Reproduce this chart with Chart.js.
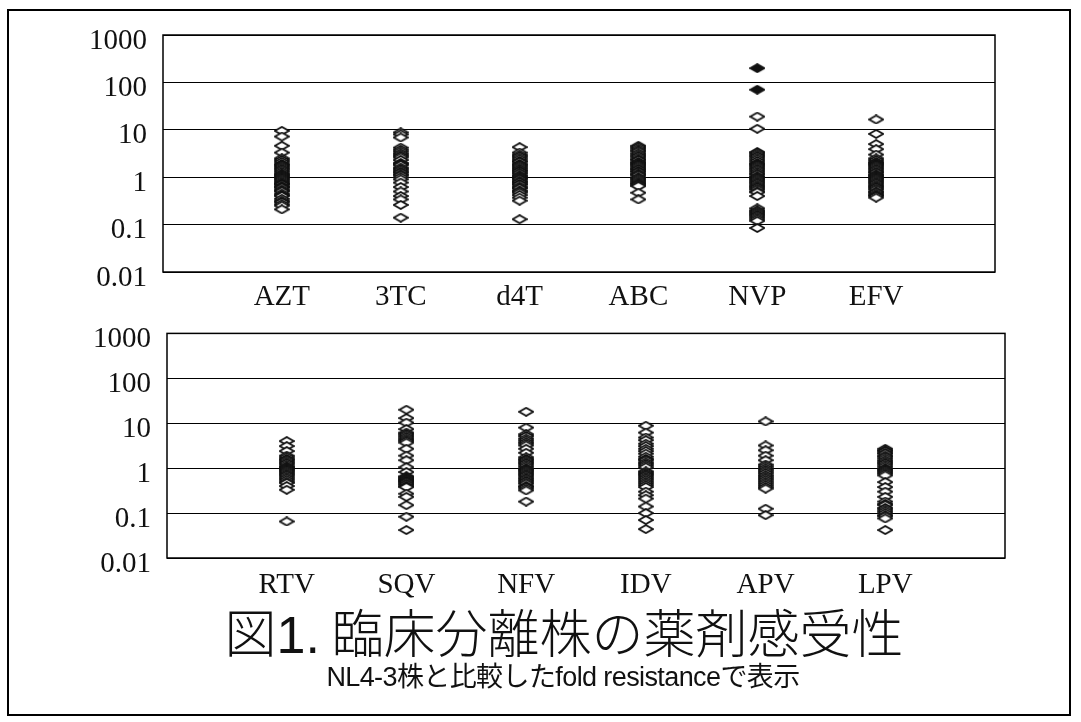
<!DOCTYPE html>
<html>
<head>
<meta charset="utf-8">
<script src="https://cdn.jsdelivr.net/npm/chart.js@4.4.0/dist/chart.umd.min.js"></script>
<style>
  body { margin: 0; background: #fff; }
  #page { position: relative; width: 1081px; height: 722px; overflow: hidden; background: #fff; }
  #frame { position: absolute; left: 7px; top: 9px; width: 1064px; height: 707px; border: 2px solid #000; box-sizing: border-box; }
  canvas { position: absolute; left: 0; }
  #topChart { top: 0; }
  #bottomChart { top: 300px; }
  #title { position: absolute; left: 0; width: 1128px; top: 600px; text-align: center; font-family: "Noto Sans CJK JP", sans-serif; font-weight: 300; font-size: 52px; line-height: 62px; color: #111; white-space: nowrap; }
  #title .num { font-family: "Liberation Sans", Arial, sans-serif; font-weight: 400; }
  #subtitle { position: absolute; left: 0; width: 1126px; top: 661px; text-align: center; font-family: "Liberation Sans", "Noto Sans CJK JP", sans-serif; font-size: 27px; line-height: 32px; color: #111; white-space: nowrap; letter-spacing: -0.6px; }
</style>
</head>
<body>
<div id="page">
  <div id="frame"></div>
  <canvas id="topChart" width="1081" height="320"></canvas>
  <canvas id="bottomChart" width="1081" height="320"></canvas>
  <div id="title">図<span class="num">1.</span> 臨床分離株の薬剤感受性</div>
  <div id="subtitle">NL4-3株と比較したfold resistanceで表示</div>
</div>
<script>
/* eslint-disable no-undef */

// fold resistance of clinical isolates, one list per drug
const nrtiLabels = ['AZT', '3TC', 'd4T', 'ABC', 'NVP', 'EFV']
const piLabels = ['RTV', 'SQV', 'NFV', 'IDV', 'APV', 'LPV']

const azt = [9.5, 7.2, 4.6, 3.3, 2.5, 2.3, 2.1, 1.9, 1.8, 1.7, 1.6, 1.5, 1.4, 1.3, 1.2, 1.15, 1.1, 1.05, 1.0, 0.95, 0.9, 0.85, 0.8, 0.75, 0.72, 0.7, 0.65, 0.62, 0.6, 0.55, 0.52, 0.5, 0.45, 0.42, 0.4, 0.35, 0.32, 0.3, 0.27, 0.25, 0.21]
const tc3 = [8.8, 8.0, 6.9, 4.2, 3.8, 3.5, 3.2, 3.0, 2.8, 2.6, 2.3, 2.0, 1.9, 1.8, 1.6, 1.5, 1.4, 1.3, 1.25, 1.15, 1.1, 1.0, 0.9, 0.77, 0.62, 0.5, 0.4, 0.34, 0.26, 0.14]
const d4t = [4.3, 3.3, 3.0, 2.8, 2.6, 2.4, 2.2, 2.1, 1.9, 1.8, 1.7, 1.6, 1.5, 1.4, 1.35, 1.25, 1.2, 1.1, 1.05, 1.0, 0.95, 0.92, 0.85, 0.8, 0.78, 0.72, 0.7, 0.64, 0.6, 0.58, 0.52, 0.5, 0.47, 0.42, 0.37, 0.32, 0.13]
const abc = [4.6, 4.3, 4.0, 3.7, 3.5, 3.2, 3.0, 2.8, 2.6, 2.4, 2.3, 2.1, 2.0, 1.9, 1.8, 1.7, 1.6, 1.5, 1.45, 1.35, 1.3, 1.2, 1.15, 1.1, 1.0, 0.95, 0.9, 0.85, 0.8, 0.75, 0.72, 0.68, 0.65, 0.47, 0.34]
const nvp = [19, 10.5, 3.4, 3.2, 3.0, 2.8, 2.6, 2.4, 2.2, 2.0, 1.9, 1.8, 1.7, 1.6, 1.5, 1.4, 1.3, 1.2, 1.15, 1.05, 1.0, 0.95, 0.9, 0.85, 0.8, 0.75, 0.7, 0.66, 0.62, 0.58, 0.55, 0.5, 0.48, 0.4, 0.22, 0.2, 0.19, 0.18, 0.17, 0.16, 0.15, 0.14, 0.13, 0.12, 0.085]
const nvpHigh = [200, 70]
const efv = [16.5, 8.2, 5.0, 3.9, 3.0, 2.5, 2.3, 2.1, 2.0, 1.9, 1.8, 1.7, 1.6, 1.5, 1.4, 1.3, 1.25, 1.15, 1.1, 1.05, 1.0, 0.95, 0.9, 0.85, 0.8, 0.75, 0.7, 0.66, 0.62, 0.58, 0.55, 0.5, 0.48, 0.45, 0.42, 0.4, 0.37]

const rtv = [4.0, 3.1, 2.4, 1.9, 1.75, 1.6, 1.5, 1.4, 1.3, 1.2, 1.1, 1.05, 1.0, 0.95, 0.9, 0.85, 0.8, 0.75, 0.7, 0.65, 0.6, 0.55, 0.5, 0.47, 0.4, 0.33, 0.065]
const sqv = [20, 13, 10.3, 7.4, 6.2, 5.8, 5.4, 5.0, 4.6, 4.3, 4.0, 3.7, 2.7, 1.9, 1.5, 1.05, 0.82, 0.66, 0.63, 0.6, 0.57, 0.55, 0.52, 0.5, 0.48, 0.45, 0.43, 0.4, 0.38, 0.27, 0.23, 0.15, 0.083, 0.042]
const nfv = [18, 8.0, 5.7, 5.2, 4.6, 4.2, 3.8, 3.5, 3.2, 2.7, 2.2, 1.75, 1.6, 1.5, 1.4, 1.3, 1.2, 1.1, 1.0, 0.95, 0.9, 0.85, 0.8, 0.75, 0.7, 0.65, 0.6, 0.56, 0.52, 0.48, 0.45, 0.4, 0.38, 0.35, 0.32, 0.18]
const idv = [8.8, 6.2, 4.8, 4.2, 3.5, 3.1, 2.7, 2.4, 2.1, 1.8, 1.6, 1.5, 1.35, 1.25, 1.15, 1.05, 0.85, 0.8, 0.75, 0.7, 0.65, 0.6, 0.55, 0.5, 0.46, 0.42, 0.38, 0.3, 0.25, 0.21, 0.14, 0.1, 0.07, 0.044]
const apv = [11, 3.2, 2.5, 1.9, 1.5, 1.2, 1.1, 1.0, 0.92, 0.85, 0.78, 0.7, 0.65, 0.6, 0.55, 0.5, 0.46, 0.42, 0.38, 0.35, 0.125, 0.09]
const lpv = [2.7, 2.5, 2.4, 2.2, 2.1, 1.9, 1.8, 1.65, 1.5, 1.4, 1.3, 1.2, 1.1, 1.0, 0.95, 0.9, 0.85, 0.8, 0.75, 0.69, 0.49, 0.38, 0.3, 0.23, 0.18, 0.16, 0.15, 0.13, 0.12, 0.11, 0.1, 0.09, 0.085, 0.076, 0.042]

const yTicks = [0.01, 0.1, 1, 10, 100, 1000]
const yTickLabels = ['0.01', '0.1', '1', '10', '100', '1000']

// flattened diamond marker
function diamond(fill) {
  const c = document.createElement('canvas')
  c.width = 16
  c.height = 10
  const g = c.getContext('2d')
  g.beginPath()
  g.moveTo(1, 5)
  g.lineTo(8, 1)
  g.lineTo(15, 5)
  g.lineTo(8, 9)
  g.closePath()
  g.fillStyle = fill
  g.fill()
  g.lineWidth = 1.8
  g.strokeStyle = '#111'
  g.stroke()
  return c
}

const openMark = diamond('#fff')
const solidMark = diamond('#111')

// box round the plot area
const plotFrame = {
  id: 'plotFrame',
  afterDraw(chart) {
    const { ctx, chartArea: a } = chart
    ctx.save()
    ctx.strokeStyle = '#000'
    ctx.lineWidth = 1.5
    ctx.strokeRect(a.left, a.top, a.right - a.left, a.bottom - a.top)
    ctx.restore()
  }
}

function toPoints(groups) {
  const pts = []
  groups.forEach((vals, i) => {
    vals.forEach((v) => pts.push({ x: i + 1, y: v }))
  })
  return pts
}

function makeChart(id, labels, groups, solid, area) {
  const ctx = document.getElementById(id).getContext('2d')
  const datasets = [
    {
      data: toPoints(groups),
      pointStyle: openMark,
      pointRadius: 7
    }
  ]
  if (solid) {
    datasets.unshift({
      data: toPoints(solid),
      pointStyle: solidMark,
      pointRadius: 7
    })
  }
  return new Chart(ctx, {
    type: 'scatter',
    data: { datasets },
    options: {
      responsive: false,
      animation: false,
      events: [],
      layout: {
        padding: { top: area.top, right: 1081 - area.right, left: 0, bottom: 0 }
      },
      plugins: { legend: { display: false }, tooltip: { enabled: false } },
      scales: {
        x: {
          type: 'linear',
          min: 0,
          max: 7,
          afterBuildTicks: (s) => {
            s.ticks = labels.map((l, i) => ({ value: i + 1 }))
          },
          afterFit: (s) => {
            s.height = 320 - area.bottom
          },
          grid: { display: false },
          border: { display: false },
          ticks: {
            autoSkip: false,
            maxRotation: 0,
            padding: area.labelGap,
            color: '#111',
            font: { family: 'Liberation Serif', size: 29 },
            callback: (v) => labels[v - 1]
          }
        },
        y: {
          type: 'logarithmic',
          min: 0.01,
          max: 1000,
          afterBuildTicks: (s) => {
            s.ticks = yTicks.map((v) => ({ value: v }))
          },
          afterFit: (s) => {
            s.width = area.left
          },
          grid: { color: '#000', lineWidth: 1, drawTicks: false },
          border: { display: false },
          ticks: {
            padding: 16,
            labelOffset: 6,
            color: '#111',
            font: { family: 'Liberation Serif', size: 29 },
            callback: (v) => yTickLabels[yTicks.indexOf(v)]
          }
        }
      }
    },
    plugins: [plotFrame]
  })
}

(function () {
  makeChart('topChart', nrtiLabels, [azt, tc3, d4t, abc, nvp, efv],
    [[], [], [], [], nvpHigh, []],
    { left: 163, top: 35, right: 995, bottom: 272, labelGap: 0 })
  makeChart('bottomChart', piLabels, [rtv, sqv, nfv, idv, apv, lpv], null,
    { left: 167, top: 32, right: 1005, bottom: 258, labelGap: 2 })
})()
</script>
</body>
</html>
